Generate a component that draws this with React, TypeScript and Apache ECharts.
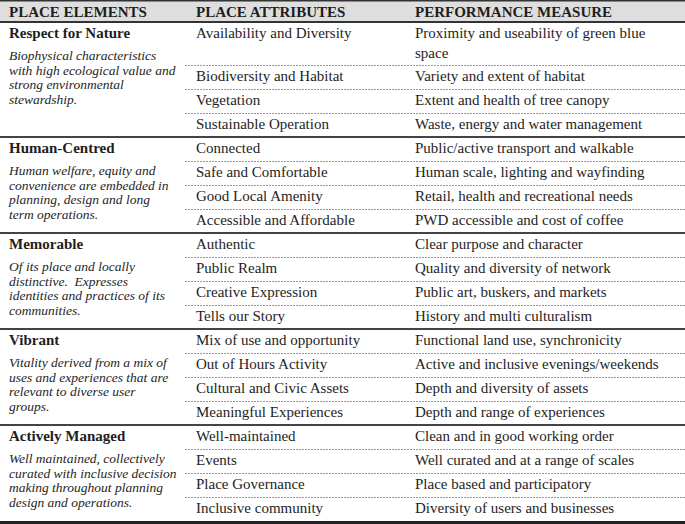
import React, { useEffect, useRef } from "react";
import * as echarts from "echarts";

const headers = ["PLACE ELEMENTS", "PLACE ATTRIBUTES", "PERFORMANCE MEASURE"];
const elements = ["Respect for Nature", "Human-Centred", "Memorable", "Vibrant", "Actively Managed"];
const descriptions = [
  ["Biophysical characteristics", "with high ecological value and", "strong environmental", "stewardship."],
  ["Human welfare, equity and", "convenience are embedded in", "planning, design and long", "term operations."],
  ["Of its place and locally", "distinctive.  Expresses", "identities and practices of its", "communities."],
  ["Vitality derived from a mix of", "uses and experiences that are", "relevant to diverse user", "groups."],
  ["Well maintained, collectively", "curated with inclusive decision", "making throughout planning", "design and operations."],
];
const attributes = [
  ["Availability and Diversity", "Biodiversity and Habitat", "Vegetation", "Sustainable Operation"],
  ["Connected", "Safe and Comfortable", "Good Local Amenity", "Accessible and Affordable"],
  ["Authentic", "Public Realm", "Creative Expression", "Tells our Story"],
  ["Mix of use and opportunity", "Out of Hours Activity", "Cultural and Civic Assets", "Meaningful Experiences"],
  ["Well-maintained", "Events", "Place Governance", "Inclusive community"],
];
const measures = [
  ["Proximity and useability of green blue\nspace", "Variety and extent of habitat", "Extent and health of tree canopy", "Waste, energy and water management"],
  ["Public/active transport and walkable", "Human scale, lighting and wayfinding", "Retail, health and recreational needs", "PWD accessible and cost of coffee"],
  ["Clear purpose and character", "Quality and diversity of network", "Public art, buskers, and markets", "History and multi culturalism"],
  ["Functional land use, synchronicity", "Active and inclusive evenings/weekends", "Depth and diversity of assets", "Depth and range of experiences"],
  ["Clean and in good working order", "Well curated and at a range of scales", "Place based and participatory", "Diversity of users and businesses"],
];

const W = 685;
const H = 524;
const FAMILY = "Liberation Serif";
const TXT = "#1e1e1e";
const COLX = [9, 196, 415];
const HEADER_H = 22;
const ROW_H = 24;
const LINE_H = 20;

function txt(text: string, x: number, y: number, size: number, weight: string, fstyle: string) {
  return {
    type: "text",
    x,
    y,
    silent: true,
    style: {
      text,
      fill: TXT,
      fontFamily: FAMILY,
      fontSize: size,
      fontWeight: weight,
      fontStyle: fstyle,
      textVerticalAlign: "middle",
      verticalAlign: "middle",
      textAlign: "left",
    },
  };
}

function buildGraphics() {
  const g: any[] = [];
  g.push({ type: "rect", shape: { x: 0, y: 0, width: W, height: HEADER_H }, style: { fill: "#dedede" } });
  g.push({ type: "rect", shape: { x: 0, y: 0, width: W, height: 1.5 }, style: { fill: "#333" } });
  g.push({ type: "rect", shape: { x: 0, y: HEADER_H - 1, width: W, height: 2 }, style: { fill: "#333" } });
  headers.forEach((h, i) => g.push(txt(h, COLX[i], 11.5, 15, "bold", "normal")));

  let top = HEADER_H;
  elements.forEach((el, gi) => {
    const T = top;
    g.push(txt(el, COLX[0], T + 11, 15, "bold", "normal"));
    descriptions[gi].forEach((d, li) => g.push(txt(d, COLX[0], T + 33.5 + li * 14.7, 13.5, "normal", "italic")));
    let y = T;
    attributes[gi].forEach((a, ri) => {
      const mLines = measures[gi][ri].split("\n");
      const rh = ROW_H + (mLines.length - 1) * (LINE_H - 1);
      if (ri > 0) {
        g.push({
          type: "line",
          shape: { x1: 185, y1: y + 0.5, x2: W, y2: y + 0.5 },
          style: { stroke: "#9a9a9a", lineWidth: 1, lineDash: [2, 1] },
        });
      }
      g.push(txt(a, COLX[1], y + 11, 15, "normal", "normal"));
      mLines.forEach((m, mi) => g.push(txt(m, COLX[2], y + 11 + mi * LINE_H, 15, "normal", "normal")));
      y += rh;
    });
    top = y;
    if (gi < elements.length - 1) {
      g.push({ type: "rect", shape: { x: 0, y: top - 1, width: W, height: 2 }, style: { fill: "#444" } });
    }
  });
  g.push({ type: "rect", shape: { x: 0, y: top, width: W, height: H - top }, style: { fill: "#222" } });
  return g;
}

export default function App() {
  const ref = useRef<HTMLDivElement>(null);
  useEffect(() => {
    if (!ref.current) return;
    const chart = echarts.init(ref.current, undefined, { renderer: "svg" });
    chart.setOption({
      animation: false,
      backgroundColor: "#ffffff",
      graphic: { elements: buildGraphics() },
    });
    return () => chart.dispose();
  }, []);
  return (
    <div
      ref={ref}
      style={{ position: "fixed", left: 0, top: 0, width: W, height: H, background: "#fff" }}
    />
  );
}
